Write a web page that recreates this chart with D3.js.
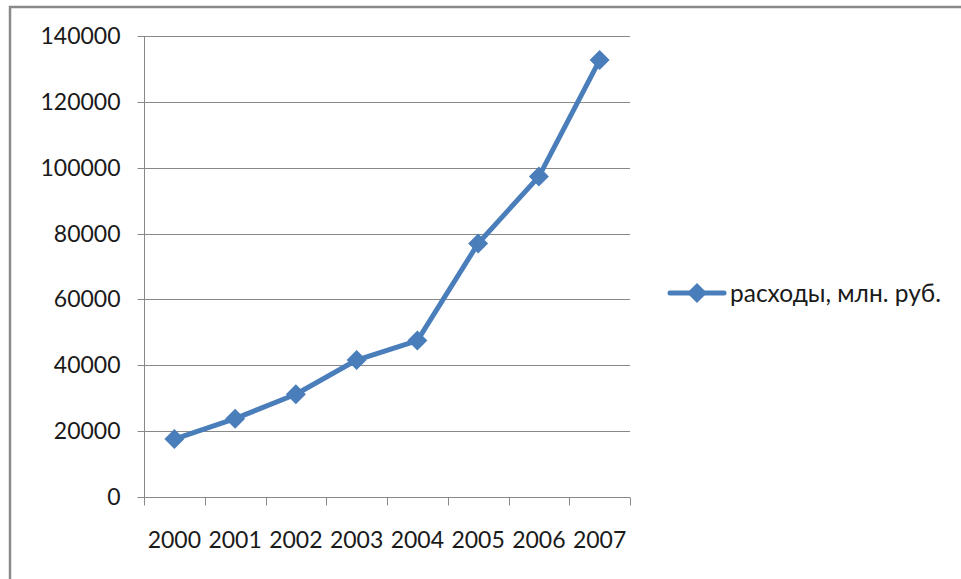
<!DOCTYPE html>
<html><head><meta charset="utf-8">
<script src="https://cdn.jsdelivr.net/npm/d3@7"></script>
<style>html,body{margin:0;padding:0;background:#fff;}svg{display:block;}</style>
</head><body>
<svg id="c" width="961" height="579"></svg>
<script>
const categories = ["2000","2001","2002","2003","2004","2005","2006","2007"];
const values = [17600, 23800, 31200, 41600, 47500, 77000, 97300, 132700];
const yTicks = [0, 20000, 40000, 60000, 80000, 100000, 120000, 140000];
const seriesName = "расходы, млн. руб.";

const svg = d3.select("#c");
const font = "Lato, 'Open Sans', sans-serif";
const blue = "#4A7EBB";
const grid = "#888888";
const textCol = "#1a1a1a";

// outer frame (only top and left visible)
svg.append("path").attr("d","M10,580 L10,7 L962,7").attr("fill","none").attr("stroke","#8a8a8a").attr("stroke-width",2.5);

const L=144, R=630, T=36, B=497;
const x = d3.scaleBand().domain(categories).range([L,R]).padding(0);
const y = d3.scaleLinear().domain([0,140000]).range([B,T]);

// gridlines
svg.append("g").selectAll("line").data(yTicks.filter(d=>d>0)).join("line")
  .attr("x1",L).attr("x2",R).attr("y1",d=>Math.round(y(d))+0.5).attr("y2",d=>Math.round(y(d))+0.5)
  .attr("stroke",grid).attr("stroke-width",1);

// y axis
const ya = svg.append("g").attr("transform",`translate(${L+0.5},0)`)
  .call(d3.axisLeft(y).tickValues(yTicks).tickSize(7).tickPadding(17).tickFormat(d3.format("d")));
ya.select(".domain").attr("d",`M0,${T}V${B+8}`).attr("stroke",grid);
ya.selectAll(".tick line").attr("stroke",grid);
ya.selectAll(".tick").attr("transform",d=>`translate(0,${Math.round(y(d))+0.5})`);
ya.selectAll("text").attr("font-family",font).attr("font-size",23).attr("fill",textCol);

// x axis
const xa = svg.append("g").attr("transform",`translate(0,${B+0.5})`)
  .call(d3.axisBottom(x).tickSize(0).tickPadding(34));
xa.select(".domain").attr("d",`M${L},0H${R}`).attr("stroke",grid);
xa.selectAll("text").attr("font-family",font).attr("font-size",23).attr("fill",textCol);
const bounds = categories.map(c=>x(c)).concat([R]);
xa.append("g").selectAll("line").data(bounds).join("line")
  .attr("x1",d=>Math.round(d)+0.5).attr("x2",d=>Math.round(d)+0.5).attr("y1",0).attr("y2",8)
  .attr("stroke",grid);

// line
const cx = c=>x(c)+x.bandwidth()/2;
const line = d3.line().x((d,i)=>cx(categories[i])).y(d=>y(d));
svg.append("path").datum(values).attr("d",line).attr("fill","none")
  .attr("stroke",blue).attr("stroke-width",5).attr("stroke-linejoin","round");

const diamond = "M0,-10L10,0L0,10L-10,0Z";
svg.append("g").selectAll("path").data(values).join("path")
  .attr("d",diamond).attr("fill",blue)
  .attr("transform",(d,i)=>`translate(${cx(categories[i])},${y(d)})`);

// legend
const lg = svg.append("g").attr("transform","translate(670,293)");
lg.append("line").attr("x1",0).attr("x2",54).attr("y1",0).attr("y2",0).attr("stroke",blue).attr("stroke-width",5).attr("stroke-linecap","round");
lg.append("path").attr("d",diamond).attr("fill",blue).attr("transform","translate(27,0)");
lg.append("text").attr("x",60).attr("y",0).attr("dy","0.35em").attr("font-family",font).attr("font-size",24.5).attr("fill",textCol).text(seriesName);
</script>
</body></html>
